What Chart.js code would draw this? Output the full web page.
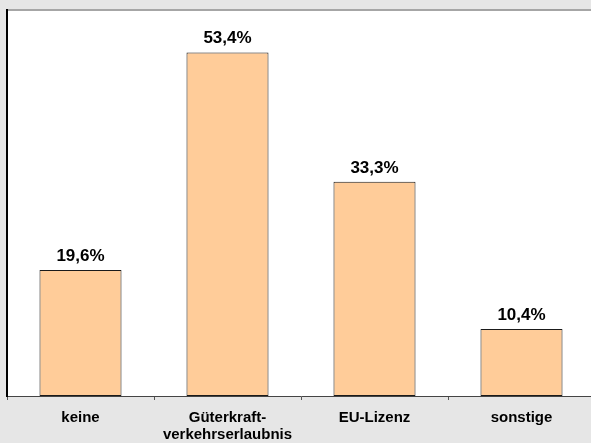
<!DOCTYPE html>
<html>
<head>
<meta charset="utf-8">
<script src="https://cdn.jsdelivr.net/npm/chart.js@4/dist/chart.umd.min.js"></script>
<style>
    html, body { margin: 0; padding: 0; overflow: hidden; background: #e6e6e6; }
    canvas { display: block; }
</style>
</head>
<body>
<canvas id="chart" width="600" height="443"></canvas>
<script>
const categories = ["keine", ["Güterkraft-", "verkehrserlaubnis"], "EU-Lizenz", "sonstige"]
const shares = [19.6, 53.4, 33.3, 10.4]
const yMax = 60

const font = "Liberation Sans, Arial, sans-serif"

// grey page, white plot area, grey rule on top
const backdrop = {
    id: "backdrop",
    beforeDraw: chart => {
        const ctx = chart.ctx
        const a = chart.chartArea
        ctx.save()
        ctx.fillStyle = "#e6e6e6"
        ctx.fillRect(0, 0, chart.width, chart.height)
        ctx.fillStyle = "#ffffff"
        ctx.fillRect(a.left, a.top, a.right - a.left, a.bottom - a.top)
        ctx.fillStyle = "#a6a6a6"
        ctx.fillRect(a.left, a.top - 1, chart.width, 2)
        ctx.restore()
    }
}

// percentage above each bar
const valueLabels = {
    id: "valueLabels",
    afterDatasetsDraw: chart => {
        const ctx = chart.ctx
        const meta = chart.getDatasetMeta(0)
        ctx.save()
        ctx.font = `bold 17px ${font}`
        ctx.fillStyle = "#000"
        ctx.textAlign = "center"
        ctx.textBaseline = "alphabetic"
        meta.data.forEach((bar, i) => {
            ctx.fillText(shares[i].toFixed(1).replace(".", ",") + "%", bar.x, bar.y - 9)
        })
        ctx.restore()
    }
}

new Chart("chart", {
    type: "bar",
    data: {
        labels: categories,
        datasets: [{
            data: shares,
            backgroundColor: "#ffcc99",
            borderColor: "#1a1a1a",
            borderWidth: 1,
            borderSkipped: false,
            categoryPercentage: 1,
            barPercentage: 0.558
        }]
    },
    options: {
        responsive: false,
        animation: false,
        layout: { padding: { left: 7, top: 10, right: 5, bottom: 0 } },
        plugins: {
            legend: { display: false },
            tooltip: { enabled: false }
        },
        scales: {
            x: {
                offset: true,
                grid: {
                    offset: true,
                    drawOnChartArea: false,
                    tickLength: 4,
                    color: "#555"
                },
                border: { color: "#444", width: 1 },
                ticks: {
                    color: "#000",
                    font: { family: font, size: 15, weight: "bold", lineHeight: 1.1 },
                    padding: 10,
                    maxRotation: 0
                },
                afterFit: scale => { scale.height = 47 }
            },
            y: {
                min: 0,
                max: yMax,
                grid: { display: false },
                border: { color: "#000", width: 2 },
                ticks: { display: false },
                afterFit: scale => { scale.width = 0 }
            }
        }
    },
    plugins: [backdrop, valueLabels]
})
</script>
</body>
</html>
